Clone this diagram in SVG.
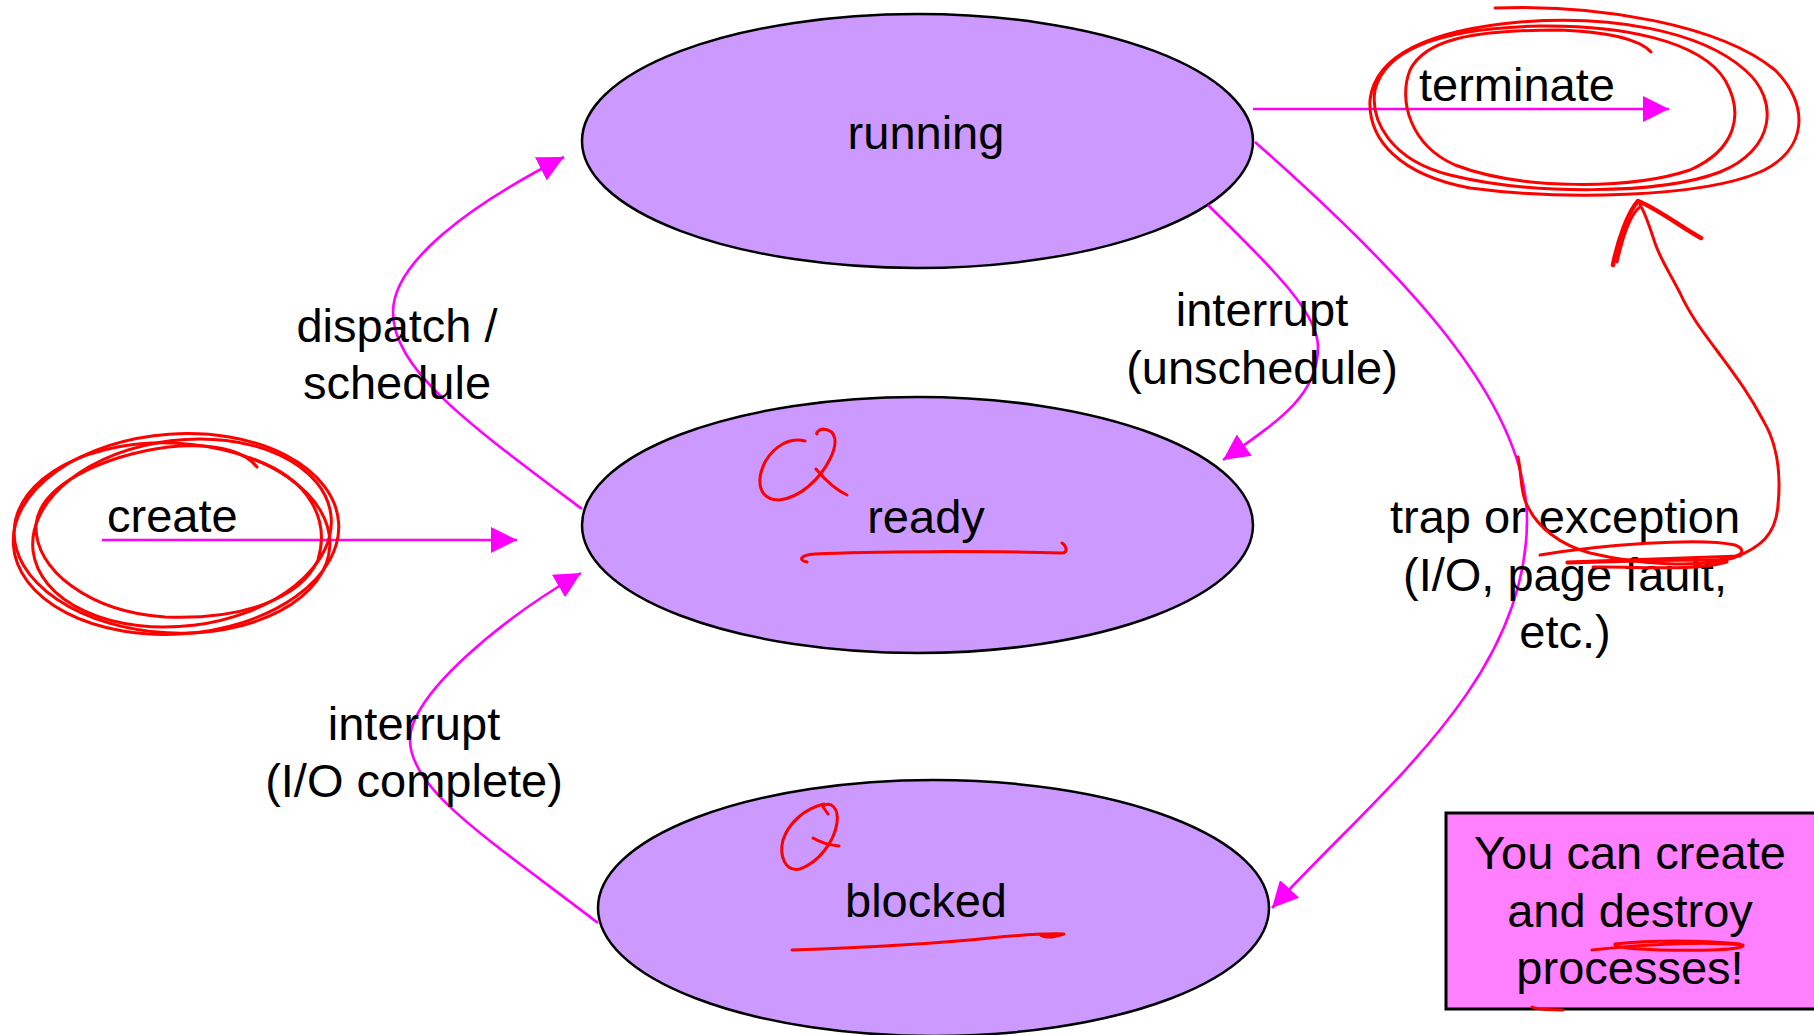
<svg xmlns="http://www.w3.org/2000/svg" width="1814" height="1035" viewBox="0 0 1814 1035">
  <style>
    .state { fill: #CC99FF; stroke: #000000; stroke-width: 2.5; }
    .lbl { font-family: "Liberation Sans", Arial, sans-serif; font-size: 47px; fill: #000000; }
    .mid { text-anchor: middle; }
    .edge { fill: none; stroke: #FF00FF; stroke-width: 2.6; }
    .ink { fill: none; stroke: #FF0000; stroke-width: 3; stroke-linecap: round; stroke-linejoin: round; }
    .ink-bold { fill: none; stroke: #FF0000; stroke-width: 4.5; stroke-linecap: round; stroke-linejoin: round; }
    .note { fill: #FF80FF; stroke: #000000; stroke-width: 3; }
  </style>
  <defs>
    <marker id="arrow" viewBox="0 0 26 26" refX="26" refY="13" markerWidth="26" markerHeight="26" markerUnits="userSpaceOnUse" orient="auto">
      <path d="M0,0 L26,13 L0,26 z" fill="#FF00FF"/>
    </marker>
  </defs>

  <rect width="1814" height="1035" fill="#FFFFFF"/>

  <!-- process states -->
  <g id="node-running">
    <ellipse class="state" cx="917.5" cy="141" rx="335.5" ry="127"/>
    <text class="lbl mid" x="926" y="149">running</text>
  </g>
  <g id="node-ready">
    <ellipse class="state" cx="917.5" cy="525" rx="335.5" ry="128"/>
    <text class="lbl mid" x="926" y="533">ready</text>
  </g>
  <g id="node-blocked">
    <ellipse class="state" cx="933.5" cy="908" rx="335.5" ry="128"/>
    <text class="lbl mid" x="926" y="917">blocked</text>
  </g>

  <!-- transitions -->
  <g id="connectors">
    <line class="edge" x1="102" y1="540" x2="517" y2="540" marker-end="url(#arrow)"/>
    <line class="edge" x1="1253" y1="109" x2="1669" y2="109" marker-end="url(#arrow)"/>
    <path class="edge" d="M582,509 C470,425 393,370 393,312 C393,262 470,205 564,157" marker-end="url(#arrow)"/>
    <path class="edge" d="M598,923 C490,840 410,790 410,740 C410,695 500,620 581,573" marker-end="url(#arrow)"/>
    <path class="edge" d="M1208,205 C1280,275 1318,315 1318,347 C1318,395 1280,420 1223,460" marker-end="url(#arrow)"/>
    <path class="edge" d="M1255,142 C1400,270 1527,400 1527,520 C1527,680 1380,790 1272,908" marker-end="url(#arrow)"/>
  </g>

  <!-- transition labels -->
  <g id="labels">
    <text class="lbl" x="107" y="532">create</text>
    <text class="lbl" x="1419" y="101">terminate</text>
    <text class="lbl mid" x="397" y="342">dispatch /</text>
    <text class="lbl mid" x="397" y="399">schedule</text>
    <text class="lbl mid" x="1262" y="326">interrupt</text>
    <text class="lbl mid" x="1262" y="384">(unschedule)</text>
    <text class="lbl mid" x="1565" y="533">trap or exception</text>
    <text class="lbl mid" x="1565" y="591">(I/O, page fault,</text>
    <text class="lbl mid" x="1565" y="648">etc.)</text>
    <text class="lbl mid" x="414" y="740">interrupt</text>
    <text class="lbl mid" x="414" y="797">(I/O complete)</text>
  </g>

  <!-- callout box -->
  <g id="node-note">
    <rect class="note" x="1446" y="813" width="372" height="196"/>
    <text class="lbl mid" x="1630" y="869">You can create</text>
    <text class="lbl mid" x="1630" y="927">and destroy</text>
    <text class="lbl mid" x="1630" y="984">processes!</text>
  </g>

  <!-- handwritten red ink -->
  <g id="ink">
    <!-- loops around "create" -->
    <ellipse class="ink" cx="176" cy="534" rx="163" ry="100" transform="rotate(-4 176 534)"/>
    <ellipse class="ink" cx="172" cy="538" rx="158" ry="95" transform="rotate(3 172 538)"/>
    <ellipse class="ink" cx="182" cy="533" rx="150" ry="93" transform="rotate(-7 182 533)"/>
    <path class="ink" d="M257,467 C245,452 220,444 180,446 C120,450 40,480 36,525 C34,570 90,612 165,617 C240,620 300,600 318,560 C330,520 310,478 250,458"/>
    <!-- loops around "terminate" -->
    <path class="ink" d="M1495,8 C1600,4 1720,25 1775,70 C1810,105 1808,150 1760,172 C1700,198 1560,200 1470,188 C1400,175 1368,140 1370,100 C1375,55 1430,30 1520,22 C1610,15 1700,30 1745,70 C1780,100 1775,150 1720,172 C1660,195 1530,195 1450,175 C1390,160 1370,120 1375,90 C1385,50 1440,28 1540,26 C1620,25 1700,40 1725,80 C1745,115 1735,150 1690,170 C1630,190 1520,190 1455,165 C1410,145 1398,100 1410,70 C1425,40 1470,30 1560,30 C1610,32 1640,40 1651,52"/>
    <!-- queue marks -->
    <path class="ink" d="M805,441 C790,437 774,446 765,462 C756,480 758,500 779,500 C800,498 820,479 830,459 C838,443 837,430 823,429 C818,430 816,433 817,434"/>
    <path class="ink" d="M816,469 C826,481 836,490 847,495"/>
    <path class="ink" d="M823,806 C831,801 839,808 837,823 C834,842 819,862 800,869 C785,872 779,856 783,840 C789,822 806,808 824,804"/>
    <path class="ink" d="M813,838 C821,843 830,845 839,846"/>
    <path class="ink" d="M823,807 L828,814"/>
    <!-- underlines -->
    <path class="ink" d="M807,562 C798,560 800,555 815,554 C870,551 990,551 1062,553 C1068,553 1067,546 1062,543"/>
    <path class="ink" d="M792,950 C850,948 920,945 990,938 C1020,935 1045,933 1064,934 C1052,938 1042,938 1040,934"/>
    <path class="ink" d="M1592,950 C1640,945 1700,941 1743,945 C1746,950 1700,951 1660,950 C1630,949 1613,947 1615,944 C1650,940 1700,940 1740,944"/>
    <path class="ink" d="M1532,1007 C1540,1011 1555,1009 1563,1010"/>
    <!-- arrow from the trap label up to terminate -->
    <path class="ink" d="M1518,457 C1522,475 1520,492 1527,505 C1537,527 1560,545 1590,553 C1640,565 1700,568 1733,558 C1760,548 1776,535 1778,505 C1781,475 1778,445 1763,420 C1748,392 1735,375 1718,352 C1703,332 1690,315 1680,293 C1668,270 1660,258 1655,243 C1649,225 1645,212 1640,205"/>
    <path class="ink" d="M1540,555 C1600,545 1700,537 1735,545 C1752,552 1735,560 1710,560 C1650,560 1600,562 1567,563"/>
    <path class="ink" d="M1567,562 C1620,560 1690,558 1740,556"/>
    <path class="ink" d="M1593,567 C1640,566 1690,572 1727,562"/>
    <path class="ink-bold" d="M1613,265 C1618,240 1628,212 1638,201 C1660,210 1682,228 1701,238"/>
    <path class="ink" d="M1617,262 C1622,240 1630,214 1640,207"/>
  </g>
</svg>
